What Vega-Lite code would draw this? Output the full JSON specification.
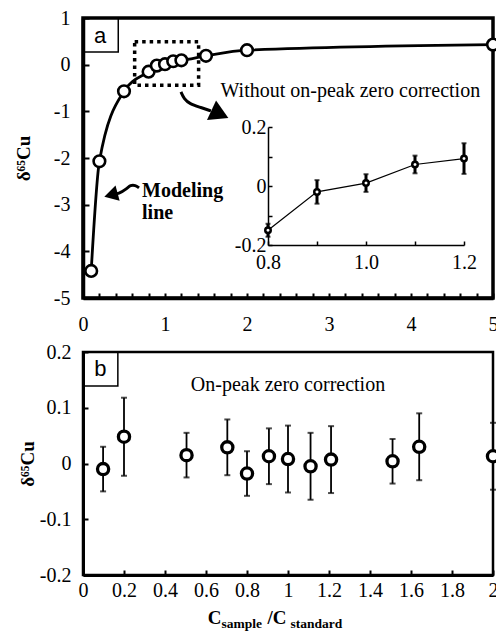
{
  "$schema": "https://vega.github.io/schema/vega-lite/v6.json",
  "background": "white",
  "padding": {"left": 12, "top": 6, "right": 5, "bottom": 5},
  "spacing": 4,
  "config": {
    "font": "Liberation Serif",
    "text": {"font": "Liberation Serif"},
    "axis": {
      "grid": false,
      "labelFont": "Liberation Serif",
      "labelFontSize": 20,
      "labelColor": "black",
      "domainColor": "black",
      "tickColor": "black",
      "titleColor": "black",
      "titleFont": "Liberation Serif",
      "titleFontWeight": "bold",
      "titleFontSize": 19,
      "labelOverlap": false,
      "labelFlush": false
    }
  },
  "vconcat": [
    {
      "width": 410,
      "height": 280,
      "view": {"stroke": "black", "strokeWidth": 3.5},
      "layer": [
        {
          "data": {"values": [
            {"x": 0.1, "y": -4.42},
            {"x": 0.2, "y": -2.07},
            {"x": 0.5, "y": -0.57},
            {"x": 0.8, "y": -0.15},
            {"x": 0.9, "y": -0.02},
            {"x": 1.0, "y": 0.01},
            {"x": 1.1, "y": 0.073},
            {"x": 1.2, "y": 0.093},
            {"x": 1.5, "y": 0.19},
            {"x": 2.0, "y": 0.31},
            {"x": 5.0, "y": 0.43}
          ]},
          "encoding": {
            "x": {
              "field": "x", "type": "quantitative", "title": null,
              "scale": {"domain": [0, 5], "nice": false, "zero": false},
              "axis": {
                "orient": "bottom",
                "values": [0, 0.2, 0.4, 0.6, 0.8, 1, 1.2, 1.4, 1.6, 1.8, 2, 2.2, 2.4, 2.6, 2.8, 3, 3.2, 3.4, 3.6, 3.8, 4, 4.2, 4.4, 4.6, 4.8, 5],
                "labelExpr": "datum.value % 1 == 0 ? format(datum.value, 'd') : ''",
                "labelFont": "Liberation Serif",
                "tickSize": -5, "tickWidth": 2, "domainWidth": 3.5, "labelPadding": 21
              }
            },
            "y": {
              "field": "y", "type": "quantitative", "title": "δ⁶⁵Cu",
              "scale": {"domain": [-5, 1], "nice": false, "zero": false},
              "axis": {
                "orient": "left",
                "values": [-5, -4, -3, -2, -1, 0, 1],
                "labelExpr": "datum.value < 0 ? '-' + format(-datum.value, 'd') : format(datum.value, 'd')",
                "labelFont": "Liberation Serif", "titleFont": "Liberation Serif",
                "tickSize": -6, "tickWidth": 2, "domainWidth": 3.5, "labelPadding": 19,
                "minExtent": 40, "maxExtent": 40, "titlePadding": 10
              }
            }
          },
          "layer": [
            {
              "data": {"values": [{}]},
              "mark": {"type": "rule", "color": "black", "strokeWidth": 4.5},
              "encoding": {
                "x": {"datum": 0, "type": "quantitative"},
                "x2": {"datum": 5},
                "y": {"datum": 0, "type": "quantitative"}
              }
            },
            {"mark": {"type": "line", "interpolate": "monotone", "color": "black", "strokeWidth": 2.8}},
            {
              "data": {"values": [{"x1": 0.63, "x2": 1.41, "y1": 0.49, "y2": -0.44}]},
              "mark": {"type": "rect", "fill": null, "stroke": "black", "strokeWidth": 3.5, "strokeDash": [3.5, 4]},
              "encoding": {
                "x": {"field": "x1", "type": "quantitative"},
                "x2": {"field": "x2"},
                "y": {"field": "y1", "type": "quantitative"},
                "y2": {"field": "y2"}
              }
            },
            {"mark": {"type": "point", "shape": "circle", "filled": true, "fill": "white", "stroke": "black", "strokeWidth": 2.6, "size": 135, "opacity": 1}},
            {
              "data": {"values": [{"x1": 0, "x2": 0.43, "y1": 1, "y2": 0.27}]},
              "mark": {"type": "rect", "fill": null, "stroke": "black", "strokeWidth": 1.5},
              "encoding": {
                "x": {"field": "x1", "type": "quantitative"},
                "x2": {"field": "x2"},
                "y": {"field": "y1", "type": "quantitative"},
                "y2": {"field": "y2"}
              }
            },
            {
              "data": {"values": [{"t": "a", "x": 0.21, "y": 0.62}]},
              "mark": {"type": "text", "font": "Liberation Sans", "fontSize": 22, "align": "center", "baseline": "middle", "color": "black"},
              "encoding": {"text": {"field": "t"}}
            },
            {
              "data": {"values": [{"t": "Without on-peak zero correction", "x": 3.26, "y": -0.565}]},
              "mark": {"type": "text", "font": "Liberation Serif", "fontSize": 20, "align": "center", "baseline": "middle", "color": "black"},
              "encoding": {"text": {"field": "t"}}
            },
            {
              "data": {"values": [
                {"t": "Modeling", "x": 0.72, "y": -2.7},
                {"t": "line", "x": 0.72, "y": -3.17}
              ]},
              "mark": {"type": "text", "font": "Liberation Serif", "fontWeight": "bold", "fontSize": 20, "align": "left", "baseline": "middle", "color": "black"},
              "encoding": {"text": {"field": "t"}}
            },
            {
              "data": {"values": [
                {"arrow": "zoom", "x": 1.195, "y": -0.585},
                {"arrow": "zoom", "x": 1.232, "y": -0.734},
                {"arrow": "zoom", "x": 1.305, "y": -0.842},
                {"arrow": "zoom", "x": 1.415, "y": -0.906},
                {"arrow": "zoom", "x": 1.56, "y": -0.99},
                {"arrow": "model", "x": 0.36, "y": -2.78},
                {"arrow": "model", "x": 0.435, "y": -2.77},
                {"arrow": "model", "x": 0.537, "y": -2.655},
                {"arrow": "model", "x": 0.577, "y": -2.582},
                {"arrow": "model", "x": 0.638, "y": -2.582},
                {"arrow": "model", "x": 0.683, "y": -2.64}
              ]},
              "mark": {"type": "line", "interpolate": "basis", "color": "black", "strokeWidth": 3},
              "encoding": {"detail": {"field": "arrow"}}
            },
            {
              "data": {"values": [
                {"arrow": "zoom", "x": 1.67, "y": -1.06, "ang": 25, "s": 460},
                {"arrow": "model", "x": 0.341, "y": -2.79, "ang": 165, "s": 250}
              ]},
              "mark": {"type": "point", "shape": "triangle-right", "filled": true, "color": "black", "opacity": 1},
              "encoding": {
                "angle": {"field": "ang", "type": "quantitative", "scale": null},
                "size": {"field": "s", "type": "quantitative", "scale": null}
              }
            }
          ]
        },
        {
          "data": {"values": [
            {"x": 0.8, "y": -0.15, "e": 0.022},
            {"x": 0.9, "y": -0.02, "e": 0.04},
            {"x": 1.0, "y": 0.01, "e": 0.03},
            {"x": 1.1, "y": 0.073, "e": 0.03},
            {"x": 1.2, "y": 0.093, "e": 0.052}
          ]},
          "encoding": {
            "x": {
              "field": "x", "type": "quantitative", "title": null,
              "scale": {"domain": [0.8, 1.2], "range": [185, 381], "nice": false, "zero": false},
              "axis": {
                "orient": "bottom", "offset": -53,
                "values": [0.8, 0.9, 1.0, 1.1, 1.2],
                "labelExpr": "round(datum.value * 10) % 2 == 0 ? format(datum.value, '.1f') : ''",
                "labelFont": "Liberation Serif",
                "tickSize": -4, "tickWidth": 1.5, "domainWidth": 1.5, "labelPadding": 11
              }
            },
            "y": {
              "field": "y", "type": "quantitative", "title": null,
              "scale": {"domain": [-0.2, 0.2], "range": [227, 109], "nice": false, "zero": false},
              "axis": {
                "orient": "left", "offset": -185,
                "values": [-0.2, -0.1, 0, 0.1, 0.2],
                "labelExpr": "round(datum.value * 10) % 2 != 0 ? '' : (datum.value == 0 ? '0' : (datum.value < 0 ? '-' : '') + format(abs(datum.value), '.1f'))",
                "labelFont": "Liberation Serif",
                "tickSize": -4, "tickWidth": 1.5, "domainWidth": 1.5, "labelPadding": 6
              }
            }
          },
          "layer": [
            {
              "data": {"values": [{}]},
              "mark": {"type": "rect", "fill": null, "stroke": "black", "strokeWidth": 1.5},
              "encoding": {
                "x": {"datum": 0.8, "type": "quantitative"},
                "x2": {"datum": 1.2},
                "y": {"datum": -0.2, "type": "quantitative"},
                "y2": {"datum": 0.2}
              }
            },
            {
              "data": {"values": [{}]},
              "mark": {"type": "rule", "color": "black", "strokeWidth": 4},
              "encoding": {
                "x": {"datum": 0.8, "type": "quantitative"},
                "x2": {"datum": 1.2},
                "y": {"datum": 0, "type": "quantitative"}
              }
            },
            {"mark": {"type": "line", "color": "black", "strokeWidth": 1.2}},
            {
              "mark": {"type": "errorbar", "color": "black", "thickness": 3, "ticks": {"size": 5, "thickness": 2, "color": "black"}},
              "encoding": {"yError": {"field": "e"}}
            },
            {"mark": {"type": "point", "shape": "circle", "filled": true, "fill": "white", "stroke": "black", "strokeWidth": 2.5, "size": 30, "opacity": 1}}
          ]
        }
      ],
      "resolve": {"scale": {"x": "independent", "y": "independent"}}
    },
    {
      "width": 410,
      "height": 223,
      "view": {"stroke": "black", "strokeWidth": 2.5},
      "data": {"values": [
        {"x": 0.098, "y": -0.01, "e": 0.04},
        {"x": 0.2, "y": 0.048, "e": 0.07},
        {"x": 0.505, "y": 0.015, "e": 0.04},
        {"x": 0.704, "y": 0.029, "e": 0.05},
        {"x": 0.8, "y": -0.018, "e": 0.04},
        {"x": 0.907, "y": 0.013, "e": 0.05},
        {"x": 1.0, "y": 0.008, "e": 0.06},
        {"x": 1.11, "y": -0.005, "e": 0.06},
        {"x": 1.21, "y": 0.007, "e": 0.06},
        {"x": 1.51, "y": 0.004, "e": 0.04},
        {"x": 1.64, "y": 0.03, "e": 0.06},
        {"x": 2.0, "y": 0.013, "e": 0.06}
      ]},
      "encoding": {
        "x": {
          "field": "x", "type": "quantitative", "title": null,
          "scale": {"domain": [0, 2], "nice": false, "zero": false},
          "axis": {
            "orient": "bottom",
            "values": [0, 0.2, 0.4, 0.6, 0.8, 1, 1.2, 1.4, 1.6, 1.8, 2],
            "labelExpr": "format(datum.value, '~g')",
            "labelFont": "Liberation Serif",
            "tickSize": -5, "tickWidth": 2, "domainWidth": 3, "labelPadding": 10
          }
        },
        "y": {
          "field": "y", "type": "quantitative", "title": "δ⁶⁵Cu",
          "scale": {"domain": [-0.2, 0.2], "nice": false, "zero": false},
          "axis": {
            "orient": "left",
            "values": [-0.2, -0.1, 0, 0.1, 0.2],
            "labelExpr": "datum.value < 0 ? '-' + format(-datum.value, '~g') : format(datum.value, '~g')",
            "labelFont": "Liberation Serif", "titleFont": "Liberation Serif",
            "tickSize": -5, "tickWidth": 2, "domainWidth": 3, "labelPadding": 17,
            "minExtent": 40, "maxExtent": 40, "titlePadding": 6
          }
        }
      },
      "layer": [
        {
          "data": {"values": [{}]},
          "mark": {"type": "rule", "color": "black", "strokeWidth": 2.8},
          "encoding": {
            "x": {"datum": 0, "type": "quantitative"},
            "x2": {"datum": 2},
            "y": {"datum": 0, "type": "quantitative"}
          }
        },
        {
          "mark": {"type": "errorbar", "color": "black", "thickness": 1.8, "ticks": {"size": 6, "thickness": 2, "color": "black"}},
          "encoding": {"yError": {"field": "e"}}
        },
        {"mark": {"type": "point", "shape": "circle", "filled": true, "fill": "white", "stroke": "black", "strokeWidth": 3.3, "size": 125, "opacity": 1}},
        {
          "data": {"values": [{"x1": 0, "x2": 0.17, "y1": 0.2, "y2": 0.139}]},
          "mark": {"type": "rect", "fill": null, "stroke": "black", "strokeWidth": 1.5},
          "encoding": {
            "x": {"field": "x1", "type": "quantitative"},
            "x2": {"field": "x2"},
            "y": {"field": "y1", "type": "quantitative"},
            "y2": {"field": "y2"}
          }
        },
        {
          "data": {"values": [{"t": "b", "x": 0.085, "y": 0.17}]},
          "mark": {"type": "text", "font": "Liberation Sans", "fontSize": 22, "align": "center", "baseline": "middle", "color": "black"},
          "encoding": {"text": {"field": "t"}}
        },
        {
          "data": {"values": [{"t": "On-peak zero correction", "x": 1.0, "y": 0.141}]},
          "mark": {"type": "text", "font": "Liberation Serif", "fontSize": 20, "align": "center", "baseline": "middle", "color": "black"},
          "encoding": {"text": {"field": "t"}}
        },
        {
          "data": {"values": [
            {"t": "C", "x": 0.608, "y": -0.2876},
            {"t": "/C", "x": 0.9, "y": -0.2876}
          ]},
          "mark": {"type": "text", "font": "Liberation Serif", "fontWeight": "bold", "fontSize": 19, "align": "left", "baseline": "alphabetic", "color": "black"},
          "encoding": {"text": {"field": "t"}}
        },
        {
          "data": {"values": [
            {"t": "sample", "x": 0.676, "y": -0.2948},
            {"t": "standard", "x": 1.012, "y": -0.2948}
          ]},
          "mark": {"type": "text", "font": "Liberation Serif", "fontWeight": "bold", "fontSize": 13.5, "align": "left", "baseline": "alphabetic", "color": "black"},
          "encoding": {"text": {"field": "t"}}
        }
      ]
    }
  ]
}
